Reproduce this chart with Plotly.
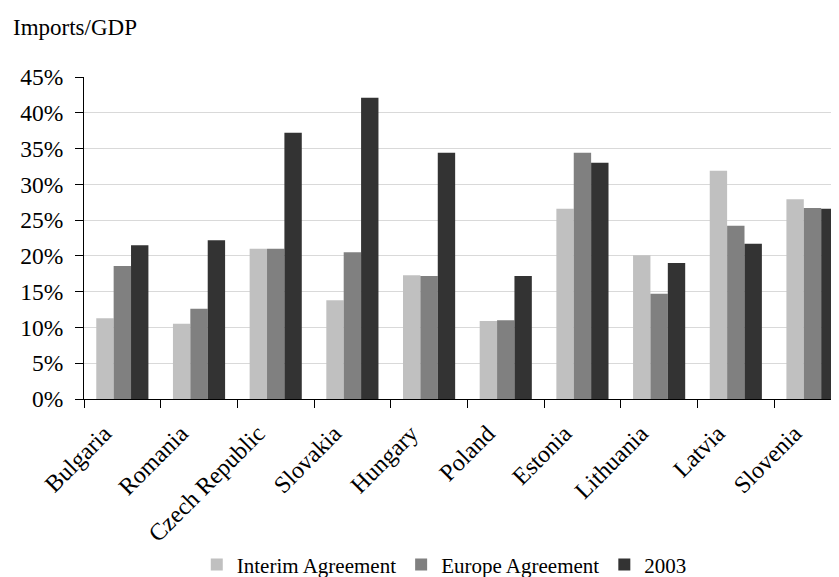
import plotly.graph_objects as go

countries = ["Bulgaria", "Romania", "Czech Republic", "Slovakia", "Hungary",
             "Poland", "Estonia", "Lithuania", "Latvia", "Slovenia"]
interim = [11.3, 10.5, 21.0, 13.8, 17.3, 10.9, 26.6, 20.1, 31.9, 27.9]
europe = [18.6, 12.6, 21.0, 20.5, 17.2, 11.0, 34.4, 14.7, 24.2, 26.7]
y2003 = [21.5, 22.2, 37.2, 42.1, 34.4, 17.2, 33.0, 19.0, 21.7, 26.6]

series = [("Interim Agreement", interim, "#C0C0C0"),
          ("Europe Agreement", europe, "#808080"),
          ("2003", y2003, "#333333")]

FONT = "Liberation Serif"

fig = go.Figure()
for name, vals, col in series:
    fig.add_trace(go.Bar(x=countries, y=[v / 100 for v in vals], name=name,
                         marker=dict(color=col, line=dict(width=0))))

fig.update_layout(
    width=839, height=577,
    paper_bgcolor="white", plot_bgcolor="white",
    font=dict(family=FONT, size=20, color="black"),
    margin=dict(l=76, r=0, t=69, b=186, autoexpand=False),
    barmode="group", bargap=0.32, bargroupgap=0,
    showlegend=True,
    legend=dict(orientation="h", xref="container", yref="container",
                x=0.52, xanchor="center", y=0.035, yanchor="middle",
                font=dict(family=FONT, size=21), itemwidth=30, traceorder="normal"),
    annotations=[dict(text="Imports/GDP", xref="paper", yref="paper",
                      x=-0.0957, y=1.155, xanchor="left", yanchor="middle",
                      showarrow=False, font=dict(family=FONT, size=23))],
)
fig.update_xaxes(range=[-0.5, 9.45], showline=True, linecolor="black", linewidth=1,
                 ticks="outside", ticklen=8, tickcolor="black", tickson="boundaries",
                 tickangle=-45, showgrid=False, automargin=False, ticklabelstandoff=10,
                 ticklabelshift=-18, tickfont=dict(family=FONT, size=24))
fig.update_yaxes(range=[0, 0.45], dtick=0.05, tickformat=".0%", showline=True,
                 linecolor="black", linewidth=1, ticks="outside", ticklen=8,
                 tickcolor="black", showgrid=True, gridcolor="#D9D9D9", gridwidth=1,
                 zeroline=False, automargin=False, ticklabelstandoff=7,
                 tickfont=dict(family=FONT, size=23.5))

fig.write_html("out.html")
